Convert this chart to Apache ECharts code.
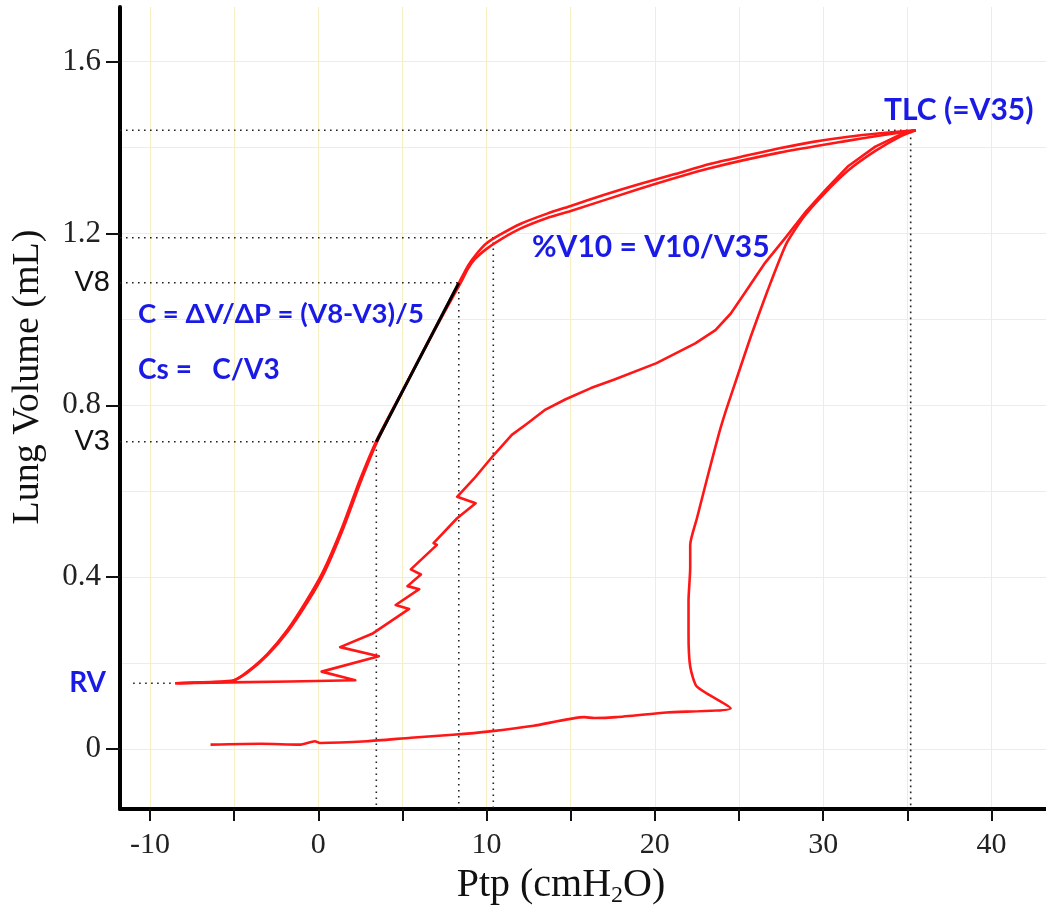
<!DOCTYPE html>
<html>
<head>
<meta charset="utf-8">
<title>Lung pressure-volume loop</title>
<script src="https://cdn.jsdelivr.net/npm/echarts@6/dist/echarts.min.js"></script>
<style>
  html, body { margin: 0; padding: 0; background: #fff; }
  #chart { width: 1046px; height: 913px; }
</style>
</head>
<body>
<div id="chart"></div>
<script>
// axis ticks
const pressureTicks = [-10, -5, 0, 5, 10, 15, 20, 25, 30, 35, 40];
const pressureLabels = [-10, 0, 10, 20, 30, 40];
const volumeTicks = [0, 0.4, 0.8, 1.2, 1.6];
const volumeGrid = [0, 0.2, 0.4, 0.6, 0.8, 1.0, 1.2, 1.4, 1.6];

// [Ptp, volume] traces
// first inflation, from the degassed lung
const inflation1 = [
  [-6.4, 0.010], [-3.4, 0.012], [-1.1, 0.010], [-0.2, 0.018], [0.1, 0.014], [2.9, 0.018],
  [5.5, 0.026], [8.0, 0.033], [10.2, 0.041], [12.8, 0.054], [15.8, 0.074], [16.4, 0.072],
  [17.7, 0.074], [20.7, 0.085], [24.5, 0.095], [22.5, 0.145], [22.1, 0.192], [22.0, 0.268],
  [22.0, 0.345], [22.1, 0.422], [22.1, 0.475], [22.5, 0.537], [23.1, 0.629], [23.8, 0.733],
  [24.25, 0.791], [24.9, 0.867], [25.7, 0.960], [26.7, 1.067], [27.8, 1.175], [28.8, 1.236],
  [30.0, 1.290], [31.5, 1.347], [33.1, 1.392], [34.6, 1.426], [35.5, 1.440]
];
// second inflation, from RV
const inflation2 = [
  [-8.5, 0.153], [-5.2, 0.155], [-1.7, 0.157], [2.2, 0.160], [0.2, 0.180], [3.6, 0.216],
  [1.3, 0.237], [3.2, 0.268], [5.4, 0.326], [4.6, 0.335], [6.0, 0.372], [5.3, 0.379],
  [6.1, 0.406], [5.5, 0.418], [7.05, 0.475], [6.85, 0.479], [8.25, 0.537], [9.35, 0.572],
  [8.25, 0.587], [9.25, 0.629], [10.4, 0.683], [11.5, 0.731], [12.4, 0.757], [13.5, 0.790],
  [14.7, 0.814], [16.2, 0.840], [17.6, 0.860], [20.1, 0.898], [22.4, 0.944], [23.6, 0.975],
  [24.5, 1.013], [25.3, 1.059], [26.5, 1.129], [27.8, 1.192], [29.0, 1.252], [30.25, 1.306],
  [31.5, 1.357], [33.1, 1.402], [34.8, 1.434], [35.5, 1.440]
];
// deflation after the first inflation
const deflation1 = [
  [35.5, 1.440], [33.4, 1.433], [31.5, 1.425], [29.4, 1.413], [27.4, 1.398], [25.3, 1.380],
  [23.2, 1.361], [21.2, 1.338], [19.1, 1.315], [17.0, 1.290], [15.0, 1.264], [13.6, 1.246],
  [12.0, 1.222], [10.8, 1.197], [10.0, 1.177], [9.4, 1.152], [8.9, 1.125], [8.4, 1.088],
  [7.3, 1.006], [6.1, 0.916], [4.9, 0.826], [3.5, 0.721], [2.5, 0.629], [1.4, 0.514],
  [0.3, 0.414], [-0.7, 0.345], [-1.85, 0.276], [-3.0, 0.222], [-4.2, 0.180], [-5.0, 0.160],
  [-6.4, 0.156], [-8.5, 0.153]
];
// deflation after the second inflation
const deflation2 = [
  [35.5, 1.440], [33.4, 1.428], [31.5, 1.416], [27.4, 1.388], [23.2, 1.351], [19.1, 1.304],
  [15.0, 1.252], [13.6, 1.236], [12.0, 1.211], [10.8, 1.185], [10.0, 1.164], [9.3, 1.140],
  [8.9, 1.118], [8.5, 1.088], [7.4, 1.010], [6.2, 0.922], [5.0, 0.832], [3.6, 0.724],
  [2.6, 0.630], [1.5, 0.515], [0.4, 0.414], [-0.6, 0.344], [-1.8, 0.274], [-3.0, 0.219],
  [-4.2, 0.178], [-5.1, 0.158], [-6.5, 0.155], [-8.3, 0.153]
];

// reference points: V3, V8, V10, TLC (=V35)
const refNames = ['V3', 'V8', 'V10', 'TLC'];
const refP = [3.45, 8.35, 10.4, 35.2];
const refV = [0.715, 1.085, 1.19, 1.44];
// residual volume
const rvStartP = -11.0;
const rvP = -8.5;
const rvV = 0.153;

const xMin = -11.78, xMax = 43.24;
const yMin = -0.14, yMax = 1.727;

const blue = '#1a1ae6';
const red = '#ff1616';
const serif = '"Liberation Serif", "Times New Roman", serif';
const sans = '"Liberation Sans", Arial, sans-serif';
const annot = 'Lato, "Open Sans", "DejaVu Sans", sans-serif';

const dotted = { color: '#222', width: 1.6, type: [1.6, 4.4] };

const series = [];

// dotted guide lines
refNames.forEach((n, i) => {
  series.push({
    name: n + ' guide', type: 'line', symbol: 'none', silent: true,
    lineStyle: dotted, z: 3,
    data: [[xMin, refV[i]], [refP[i], refV[i]], [refP[i], yMin]]
  });
});
series.push({
  name: 'RV guide', type: 'line', symbol: 'none', silent: true, lineStyle: dotted, z: 3,
  data: [[rvStartP, rvV], [rvP, rvV]]
});

// traces
[inflation1, inflation2, deflation1, deflation2].forEach((d, i) => {
  series.push({
    name: 'trace' + i, type: 'line', symbol: 'none', silent: true, z: 5,
    smooth: i === 1 ? false : 0.2,
    lineStyle: { color: red, width: 2.6, join: 'round' },
    data: d
  });
});

// slope segment V3 -> V8
series.push({
  name: 'slope', type: 'line', symbol: 'none', silent: true, z: 6,
  lineStyle: { color: '#000', width: 3 },
  data: [[refP[0], refV[0]], [refP[1], refV[1]]]
});

// V3 / V8 labels at the y axis
series.push({
  name: 'vlabels', type: 'scatter', symbolSize: 0, silent: true, z: 7,
  itemStyle: { opacity: 1 },
  label: {
    show: true, position: 'left', distance: 10, formatter: '{b}',
    fontFamily: sans, fontSize: 29, color: '#111'
  },
  data: [
    { name: 'V3', value: [xMin, refV[0]] },
    { name: 'V8', value: [xMin, refV[1]] }
  ]
});
series.push({
  name: 'rvlabel', type: 'scatter', symbolSize: 0, silent: true, z: 7,
  itemStyle: { opacity: 1 },
  label: {
    show: true, position: 'left', distance: 14, formatter: 'RV',
    fontFamily: annot, fontWeight: 'bold', fontSize: 28, color: blue
  },
  data: [[xMin, rvV]]
});
series.push({
  name: 'tlclabel', type: 'scatter', symbolSize: 0, silent: true, z: 7,
  itemStyle: { opacity: 1 },
  label: {
    show: true, position: 'top', distance: 5, offset: [48, 0], formatter: 'TLC (=V35)',
    fontFamily: annot, fontWeight: 'bold', fontSize: 30, color: blue
  },
  data: [[refP[3], refV[3]]]
});

const chart = echarts.init(document.getElementById('chart'));
chart.setOption({
  animation: false,
  backgroundColor: '#fff',
  grid: { left: 120, right: 0, top: 7, bottom: 96 },
  xAxis: {
    type: 'value', min: xMin, max: xMax,
    name: 'Ptp (cmH{sub|2}O)', nameLocation: 'middle', nameGap: 46,
    nameTextStyle: {
      fontFamily: serif, fontSize: 40, color: '#111', padding: [0, 44, 0, 0],
      rich: { sub: { fontFamily: serif, fontSize: 24, color: '#111', padding: [22, 0, 0, 0] } }
    },
    axisLine: { show: true, onZero: false, lineStyle: { color: '#000', width: 4 } },
    axisTick: { show: true, length: 12, lineStyle: { color: '#111', width: 2 }, customValues: pressureTicks },
    axisLabel: { customValues: pressureLabels, margin: 21, fontFamily: serif, fontSize: 30, color: '#222' },
    splitLine: { show: true, lineStyle: { color: '#f7efc4', width: 1 } }
  },
  yAxis: [{
    type: 'value', min: yMin, max: yMax,
    name: 'Lung Volume (mL)', nameLocation: 'middle', nameGap: 73, nameRotate: 90,
    nameTextStyle: { fontFamily: serif, fontSize: 38, color: '#111', padding: [0, 0, 0, 62] },
    axisLine: { show: true, onZero: false, lineStyle: { color: '#000', width: 4 } },
    axisTick: { show: true, length: 14, lineStyle: { color: '#111', width: 2 }, customValues: volumeTicks },
    axisLabel: {
      customValues: volumeTicks, margin: 19, fontFamily: serif, fontSize: 31, color: '#222',
      formatter: v => (v === 0 ? '0' : v.toFixed(1))
    },
    splitLine: { show: false }
  }, {
    type: 'value', min: yMin, max: yMax, position: 'left',
    axisLine: { show: false },
    axisTick: { show: false, customValues: volumeGrid },
    axisLabel: { show: false },
    splitLine: { show: true, lineStyle: { color: '#f7efc4', width: 1 } }
  }],
  graphic: [
    { type: 'text', x: 532, y: 247, z: 10,
      style: { text: '%V10 = V10/V35', font: 'bold 30px ' + annot, fill: blue, verticalAlign: 'middle' } },
    { type: 'text', x: 138, y: 314, z: 10,
      style: { text: 'C = ΔV/ΔP = (V8-V3)/5', font: 'bold 27.5px ' + annot, fill: blue, verticalAlign: 'middle' } },
    { type: 'text', x: 138, y: 370, z: 10,
      style: { text: 'Cs =   C/V3', font: 'bold 28px ' + annot, fill: blue, verticalAlign: 'middle' } }
  ],
  series: series
});
window.addEventListener('resize', () => chart.resize());
</script>
</body>
</html>
